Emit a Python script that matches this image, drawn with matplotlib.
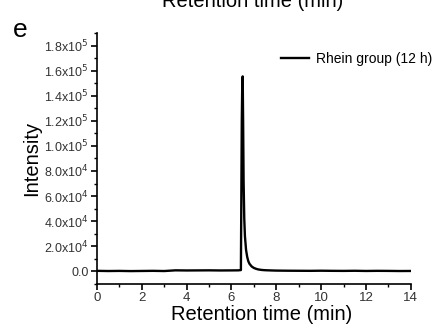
import matplotlib.pyplot as plt
from matplotlib.ticker import MultipleLocator, FuncFormatter

plt.rcParams['font.family'] = ['Liberation Sans', 'DejaVu Sans']

# Cromatograma del grupo Rhein (12 h)
tiempo = [0.0, 0.5, 1.0, 1.5, 2.0, 2.5, 3.0, 3.5, 4.0, 4.5, 5.0, 5.5, 6.0, 6.3,
          6.42, 6.44, 6.46, 6.48, 6.50, 6.52, 6.54, 6.57, 6.60, 6.65, 6.70,
          6.75, 6.80, 6.90, 7.00, 7.10, 7.20, 7.35, 7.50, 7.80, 8.0, 8.5, 9.0,
          9.5, 10.0, 10.5, 11.0, 11.5, 12.0, 12.5, 13.0, 13.5, 14.0]
intensidad = [300, 150, 250, 100, 200, 300, 150, 700, 600, 650, 700, 600, 650, 700,
              900, 60000, 120000, 148000, 155500, 118000, 72000, 42000, 28000,
              17000, 11500, 8000, 6000, 3800, 2600, 1900, 1400, 1000, 800, 600,
              500, 400, 350, 300, 400, 300, 250, 350, 200, 300, 250, 150, 200]

fig = plt.figure(figsize=(4.37, 3.35), dpi=100)
ax = fig.add_axes([0.222, 0.153, 0.718, 0.748])

ax.plot(tiempo, intensidad, color='black', lw=1.7, label='Rhein group (12 h)')

ax.set_xlim(0, 14)
ax.set_ylim(-10000, 190000)
ax.xaxis.set_major_locator(MultipleLocator(2))
ax.xaxis.set_minor_locator(MultipleLocator(1))
ax.yaxis.set_major_locator(MultipleLocator(20000))
ax.yaxis.set_minor_locator(MultipleLocator(10000))


def formato_y(v, pos):
    if v == 0:
        return '0.0'
    exp = len(str(int(abs(v)))) - 1
    return r'%.1fx10$^{%d}$' % (v / 10 ** exp, exp)


ax.yaxis.set_major_formatter(FuncFormatter(formato_y))

for lado in ['top', 'right']:
    ax.spines[lado].set_visible(False)
for lado in ['left', 'bottom']:
    ax.spines[lado].set_linewidth(1.2)
ax.tick_params(which='major', direction='out', length=4, width=1.2, colors='black',
               labelcolor='#333333', pad=2)
ax.tick_params(axis='y', labelsize=9)
ax.tick_params(axis='x', labelsize=9.5)
ax.tick_params(which='minor', direction='out', length=2.5, width=1.0)

ax.set_xlabel('Retention time (min)', fontsize=14.5, labelpad=0)
ax.xaxis.set_label_coords(0.525, -0.085)
ax.set_ylabel('Intensity', fontsize=14.5, labelpad=2)

ax.legend(loc='upper left', bbox_to_anchor=(0.555, 0.965), frameon=False, fontsize=10,
          handlelength=2.0, handletextpad=0.5, borderaxespad=0.3)

# Título recortado del panel superior y letra del panel
fig.text(0.578, 0.997, 'Retention time (min)', fontsize=14.5, ha='center', va='center')
fig.text(0.03, 0.89, 'e', fontsize=19)

plt.savefig('out.png', dpi=100)
